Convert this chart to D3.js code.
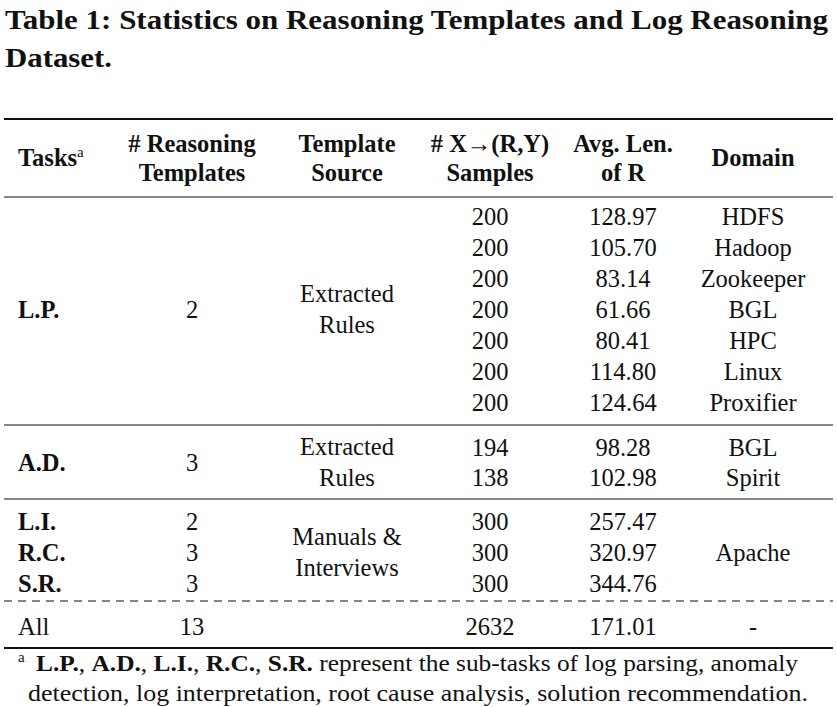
<!DOCTYPE html>
<html><head><meta charset="utf-8">
<script src="https://cdn.jsdelivr.net/npm/d3@7"></script>
<style>body{margin:0;background:#fff}text{font-family:"Liberation Serif","DejaVu Serif",serif;fill:#111}</style>
</head><body>
<svg id="tbl" width="837" height="707"></svg>
<script>
// data
var samples = [200,200,200,200,200,200,200,194,138,300,300,300];
var avgLen = ["128.97","105.70","83.14","61.66","80.41","114.80","124.64","98.28","102.98","257.47","320.97","344.76"];
var domains = ["HDFS","Hadoop","Zookeeper","BGL","HPC","Linux","Proxifier","BGL","Spirit","","",""];
var tasks = [{name:"L.P.",row:3,tpl:"2"},{name:"A.D.",row:7.5,tpl:"3"},{name:"L.I.",row:9,tpl:"2"},{name:"R.C.",row:10,tpl:"3"},{name:"S.R.",row:11,tpl:"3"}];
var sources = [{lines:["Extracted","Rules"],row:3},{lines:["Extracted","Rules"],row:7.5},{lines:["Manuals &","Interviews"],row:10}];
var total = {name:"All",tpl:"13",samples:"2632",avg:"171.01",domain:"-"};

var svg = d3.select("#tbl");
var col = {task:18, tpl:192, src:347, smp:490, avg:623, dom:753};
var rowY = function(i){ return i<7 ? 216+i*31 : i<9 ? 447+(i-7)*30.5 : 521+(i-9)*31; };
var fs = 24.5;

function txt(x,y,s,opt){
  opt=opt||{};
  var t = svg.append("text").attr("x",x).attr("y",y).attr("dy","0.35em")
    .attr("text-anchor",opt.anchor||"middle").attr("font-size",opt.size||fs)
    .attr("font-weight",opt.bold?"bold":"normal").text(s);
  if(opt.len) t.attr("textLength",opt.len).attr("lengthAdjust","spacingAndGlyphs");
  return t;
}
function rule(y,w,dash){
  svg.append("line").attr("x1",4).attr("x2",833).attr("y1",y).attr("y2",y)
    .attr("stroke","#111").attr("stroke-width",w).attr("stroke-dasharray",dash||null);
}

// title
txt(5,20,"Table 1: Statistics on Reasoning Templates and Log Reasoning",{anchor:"start",bold:true,size:27,len:823});
txt(5,58,"Dataset.",{anchor:"start",bold:true,size:27,len:107});

rule(119,2); rule(197,1.2); rule(425,1.2); rule(499,1.2); rule(601,1.2,"8,6"); rule(648,2);

// header
var h = txt(col.task,157,"Tasks",{anchor:"start",bold:true});
h.append("tspan").attr("font-size",15).attr("font-weight","normal").attr("dy","-0.6em").text("a");
[[col.tpl,["# Reasoning","Templates"]],[col.src,["Template","Source"]],[col.smp,["# X\u2192(R,Y)","Samples"]],[col.avg,["Avg. Len.","of R"]]]
  .forEach(function(d){ txt(d[0],143,d[1][0],{bold:true}); txt(d[0],172,d[1][1],{bold:true}); });
txt(col.dom,157,"Domain",{bold:true});

// body
samples.forEach(function(v,i){ txt(col.smp,rowY(i),v); txt(col.avg,rowY(i),avgLen[i]); if(domains[i]) txt(col.dom,rowY(i),domains[i]); });
txt(col.dom,rowY(10),"Apache");
tasks.forEach(function(t){
  var y = t.row%1 ? (rowY(7)+rowY(8))/2 : rowY(t.row);
  txt(col.task,y,t.name,{anchor:"start",bold:true}); txt(col.tpl,y,t.tpl);
});
sources.forEach(function(s){
  var y = s.row%1 ? (rowY(7)+rowY(8))/2 : rowY(s.row);
  txt(col.src,y-15.5,s.lines[0]); txt(col.src,y+15.5,s.lines[1]);
});
txt(col.task,626,total.name,{anchor:"start"}); txt(col.tpl,626,total.tpl);
txt(col.smp,626,total.samples); txt(col.avg,626,total.avg); txt(col.dom,626,total.domain);

// footnote
txt(18,657,"a",{anchor:"start",size:15});
var f = svg.append("text").attr("x",36).attr("y",663).attr("dy","0.35em").attr("font-size",23)
  .attr("textLength",762).attr("lengthAdjust","spacingAndGlyphs");
[["L.P.",1],[", ",0],["A.D.",1],[", ",0],["L.I.",1],[", ",0],["R.C.",1],[", ",0],["S.R.",1],[" represent the sub-tasks of log parsing, anomaly",0]]
  .forEach(function(p){ f.append("tspan").attr("font-weight",p[1]?"bold":"normal").text(p[0]); });
txt(28,693,"detection, log interpretation, root cause analysis, solution recommendation.",{anchor:"start",size:23,len:780});
</script>
</body></html>
